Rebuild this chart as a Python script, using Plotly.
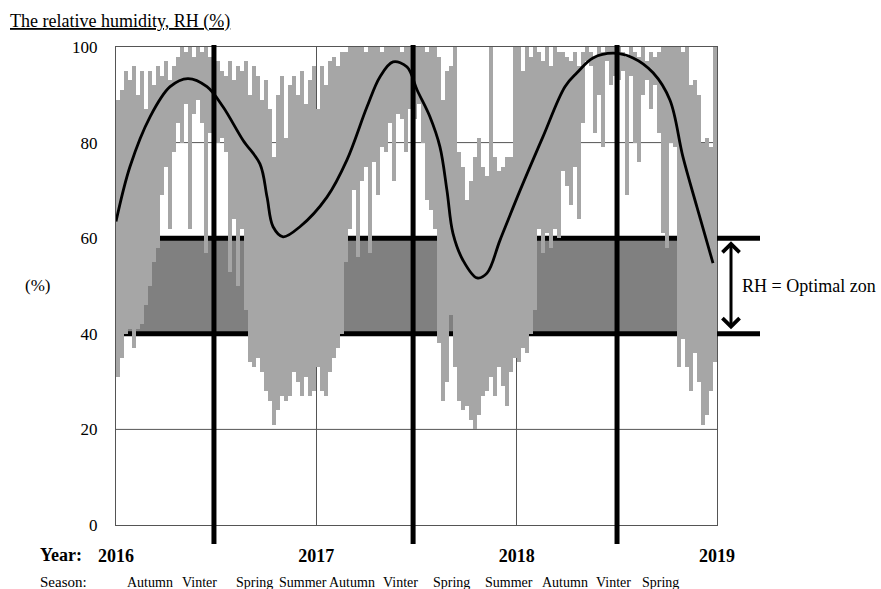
import plotly.graph_objects as go

# ---------------- data ----------------
START_YEAR = 2016.0
BIN_YEARS = 0.02  # width of each min-max bar (about one week)

RH_HIGH = [
    89, 91, 95, 93, 96, 90, 95, 87, 95, 92,
    96, 94, 97, 93, 96, 98, 100, 99, 100, 98,
    100, 99, 100, 98, 99, 97, 95, 94, 97, 93,
    96, 95, 97, 90, 96, 94, 89, 93, 87, 77,
    90, 94, 81, 92, 94, 90, 95, 88, 93, 96,
    87, 96, 92, 97, 98, 96, 99, 99, 100, 100,
    100, 100, 99, 100, 100, 100, 99, 100, 100, 100,
    100, 99, 100, 100, 100, 100, 100, 99, 100, 100,
    98, 89, 95, 96, 100, 78, 75, 68, 72, 77,
    81, 75, 73, 100, 77, 74, 75, 77, 77, 100,
    100, 95, 100, 98, 100, 99, 97, 100, 96, 100,
    99, 99, 98, 97, 99, 96, 99, 100, 99, 98,
    100, 99, 100, 100, 100, 100, 99, 98, 100, 99,
    98, 100, 97, 99, 98, 99, 100, 100, 100, 100,
    100, 99, 100, 92, 93, 90, 80, 81, 79, 100,
]
RH_LOW = [
    31, 35, 40, 41, 37, 41, 42, 46, 50, 55,
    58, 69, 75, 62, 78, 84, 80, 88, 62, 86,
    89, 84, 57, 82, 80, 80, 81, 78, 53, 64,
    50, 62, 45, 34, 33, 35, 32, 28, 26, 21,
    24, 27, 26, 27, 32, 30, 27, 31, 27, 28,
    33, 28, 27, 32, 35, 37, 40, 55, 62, 70,
    56, 72, 75, 57, 76, 69, 79, 78, 84, 72,
    86, 85, 78, 87, 85, 88, 80, 68, 66, 62,
    38, 26, 30, 44, 33, 26, 24, 25, 22, 20,
    23, 27, 28, 31, 27, 33, 29, 25, 32, 35,
    34, 37, 36, 40, 45, 62, 57, 61, 58, 62,
    60, 74, 71, 67, 75, 64, 84, 97, 96, 82,
    90, 79, 97, 92, 94, 93, 95, 69, 94, 80,
    76, 90, 93, 87, 92, 82, 61, 58, 80, 79,
    33, 39, 33, 28, 36, 30, 21, 23, 28, 34,
]

# smoothed seasonal trend (black curve)
CURVE_YEAR = [
    2016.000, 2016.070, 2016.170, 2016.270, 2016.359, 2016.454, 2016.534,
    2016.634, 2016.719, 2016.754, 2016.784, 2016.834, 2016.918, 2017.053,
    2017.153, 2017.253, 2017.318, 2017.383, 2017.453, 2017.503, 2017.567,
    2017.617, 2017.652, 2017.682, 2017.732, 2017.802, 2017.852, 2017.917,
    2018.017, 2018.131, 2018.241, 2018.301, 2018.381, 2018.481, 2018.581,
    2018.681, 2018.765, 2018.830, 2018.900, 2018.980,
]
CURVE_RH = [
    63.5, 75.0, 85.4, 91.7, 93.4, 91.7, 87.5,
    80.5, 75.5, 68.6, 62.4, 60.3, 62.4, 68.6,
    76.4, 87.5, 93.8, 96.9, 95.8, 91.0, 85.4,
    79.1, 70.0, 61.0, 55.4, 51.7, 52.7, 59.6,
    70.0, 81.2, 91.7, 94.6, 97.7, 98.7, 97.7,
    94.6, 88.9, 77.0, 66.5, 54.8,
]

YEAR_TICKS = [2016, 2017, 2018, 2019]
YEAR_LABELS = ["2016", "2017", "2018", "2019"]
Y_TICKS = [0, 20, 40, 60, 80, 100]
GRID_Y = [20, 80]  # thin gridlines not hidden under the optimal-zone lines
WINTER_MARKS = [2016.489, 2017.483, 2018.501]
OPT_LOW, OPT_HIGH = 40, 60
SEASONS = ["Autumn", "Vinter", "Spring", "Summer", "Autumn", "Vinter",
           "Spring", "Summer", "Autumn", "Vinter", "Spring"]

# ---------------- layout helpers (pixels of the 881x589 canvas) ----------------
W, H = 881, 589
L, R, T, B = 116, 717, 47, 525
PW, PH = R - L, B - T


def px_x(px):
    return (px - L) / PW


def px_y(py):
    return (B - py) / PH


SEASON_PX = [150, 199, 254, 303, 352, 400, 452, 509, 565, 613, 660]
SERIF = "Liberation Serif, Times New Roman, serif"
GRID_COLOR = "#555555"

bin_x = [START_YEAR + BIN_YEARS * (i + 0.5) for i in range(len(RH_HIGH))]
bar_h = [h - l for h, l in zip(RH_HIGH, RH_LOW)]

fig = go.Figure()
fig.add_trace(go.Bar(
    x=bin_x, y=bar_h, base=RH_LOW, width=BIN_YEARS,
    marker=dict(color="#a6a6a6", line=dict(width=0)),
    hoverinfo="skip",
))
fig.add_trace(go.Scatter(
    x=CURVE_YEAR, y=CURVE_RH, mode="lines",
    line=dict(color="black", width=2.8, shape="spline", smoothing=1.0),
    hoverinfo="skip",
))

shapes = []
for g in GRID_Y:
    shapes.append(dict(type="line", xref="paper", yref="y", x0=0, x1=1, y0=g, y1=g,
                       line=dict(color=GRID_COLOR, width=1), layer="below"))
# optimal zone band
shapes.append(dict(type="rect", xref="paper", yref="paper", x0=0, x1=1,
                   y0=OPT_LOW / 100, y1=OPT_HIGH / 100,
                   fillcolor="#808080", line=dict(width=0), layer="between"))
for v in (OPT_LOW, OPT_HIGH):
    shapes.append(dict(type="line", xref="paper", yref="paper", x0=0, x1=1,
                       y0=v / 100, y1=v / 100,
                       line=dict(color="black", width=5), layer="between"))
    shapes.append(dict(type="line", xref="paper", yref="paper", x0=1, x1=px_x(760),
                       y0=v / 100, y1=v / 100,
                       line=dict(color="black", width=5), layer="above"))
for m in WINTER_MARKS:
    shapes.append(dict(type="line", xref="x", yref="paper", x0=m, x1=m,
                       y0=px_y(544), y1=px_y(45),
                       line=dict(color="black", width=5), layer="above"))

ann = []
ann.append(dict(text="<u>The relative humidity, RH (%)</u>", xref="paper", yref="paper",
                x=px_x(8), y=px_y(22), xanchor="left", yanchor="middle",
                showarrow=False, font=dict(family=SERIF, size=18, color="black")))
ann.append(dict(text="(%)", xref="paper", yref="paper", x=px_x(37), y=px_y(285),
                xanchor="center", yanchor="middle", showarrow=False,
                font=dict(family=SERIF, size=17, color="black")))
ann.append(dict(text="RH = Optimal zon", xref="paper", yref="y", x=px_x(740), y=50,
                xanchor="left", yanchor="middle", showarrow=False,
                font=dict(family=SERIF, size=18, color="black")))
ann.append(dict(text="", xref="paper", yref="y", x=px_x(731), y=OPT_HIGH,
                axref="pixel", ax=0, ayref="y", ay=OPT_LOW,
                showarrow=True, arrowhead=4, startarrowhead=4, arrowside="end+start",
                arrowsize=1.1, startarrowsize=1.1, arrowwidth=3, arrowcolor="black",
                standoff=3, startstandoff=3))
ann.append(dict(text="<b>Year:</b>", xref="paper", yref="paper", x=px_x(38), y=px_y(555),
                xanchor="left", yanchor="middle", showarrow=False,
                font=dict(family=SERIF, size=18, color="black")))
ann.append(dict(text="Season:", xref="paper", yref="paper", x=px_x(38), y=px_y(582),
                xanchor="left", yanchor="middle", showarrow=False,
                font=dict(family=SERIF, size=15, color="black")))
for s, p in zip(SEASONS, SEASON_PX):
    ann.append(dict(text=s, xref="paper", yref="paper", x=px_x(p), y=px_y(582),
                    xanchor="center", yanchor="middle", showarrow=False,
                    font=dict(family=SERIF, size=14, color="black")))

fig.update_layout(
    width=W, height=H,
    margin=dict(l=L, r=W - R, t=T, b=H - B, pad=0),
    paper_bgcolor="white", plot_bgcolor="white",
    showlegend=False, bargap=0,
    shapes=shapes, annotations=ann,
    xaxis=dict(range=[2016, 2019], tickvals=YEAR_TICKS, ticktext=YEAR_LABELS,
               tickfont=dict(family=SERIF, size=18, color="black", weight="bold"),
               showgrid=True, gridcolor=GRID_COLOR, gridwidth=1,
               showline=True, linecolor=GRID_COLOR, linewidth=1, mirror=True,
               ticks="", ticklabelstandoff=14, zeroline=False, fixedrange=True),
    yaxis=dict(range=[0, 100], tickvals=Y_TICKS,
               tickfont=dict(family=SERIF, size=17, color="black"),
               showgrid=False,
               showline=True, linecolor=GRID_COLOR, linewidth=1, mirror=True,
               ticks="", ticklabelstandoff=14, zeroline=False, fixedrange=True),
)

fig.write_html("out.html")
